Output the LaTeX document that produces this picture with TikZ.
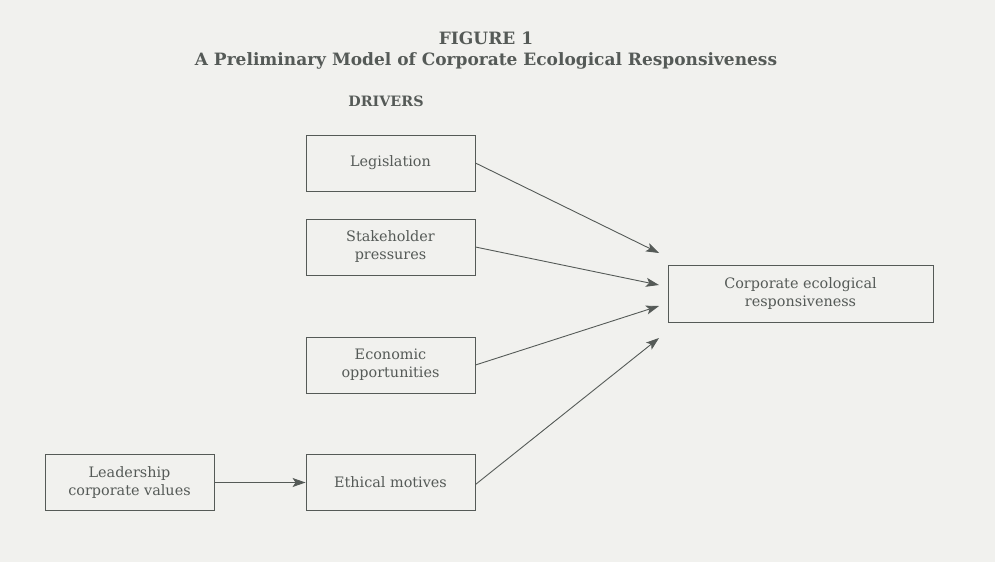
\documentclass[tikz,border=0pt]{standalone}
\usepackage{fontspec}
\setmainfont{DejaVu Serif}
\usetikzlibrary{arrows.meta}
\definecolor{ink}{HTML}{555A57}
\definecolor{paper}{HTML}{F1F1EE}
\begin{document}
\begin{tikzpicture}[x=1pt,y=-1pt,
  box/.style={draw=ink, line width=0.9pt, text=ink, minimum width=169pt, minimum height=56pt, align=center, font=\fontsize{14.4}{18}\selectfont, inner sep=2pt},
  arr/.style={draw=ink, line width=0.9pt, -{Stealth[length=13pt,width=9pt,inset=3pt]}}]
\fill[paper] (0,0) rectangle (995,562);
\useasboundingbox (0,0) rectangle (995,562);
\node[text=ink, font=\bfseries\fontsize{17}{20}\selectfont] (fig) at (486,38) {FIGURE 1};
\node[text=ink, font=\bfseries\fontsize{17}{22}\selectfont] (title) at (486,61) {A Preliminary Model of Corporate Ecological Responsiveness};
\node[text=ink, font=\bfseries\fontsize{14.3}{16}\selectfont] (drv) at (386,101) {DRIVERS};
\node[box] (leg) at (390.5,163) {Legislation};
\node[box] (stk) at (390.5,247) {Stakeholder\\pressures};
\node[box] (eco) at (390.5,365) {Economic\\opportunities};
\node[box] (eth) at (390.5,482.5) {Ethical motives};
\node[box] (lead) at (129.5,482.5) {Leadership\\corporate values};
\node[box, minimum width=265pt, minimum height=57pt] (cer) at (800.5,293.5) {Corporate ecological\\responsiveness};
\coordinate (t1) at (659,253);
\coordinate (t2) at (659,285);
\coordinate (t3) at (659,306);
\coordinate (t4) at (659,338);
\draw[arr] (leg.east) -- (t1);
\draw[arr] (stk.east) -- (t2);
\draw[arr] (eco.east) -- (t3);
\draw[arr] ([yshift=-2pt]eth.east) -- (t4);
\draw[arr] (lead.east) -- (eth.west);
\end{tikzpicture}
\end{document}
